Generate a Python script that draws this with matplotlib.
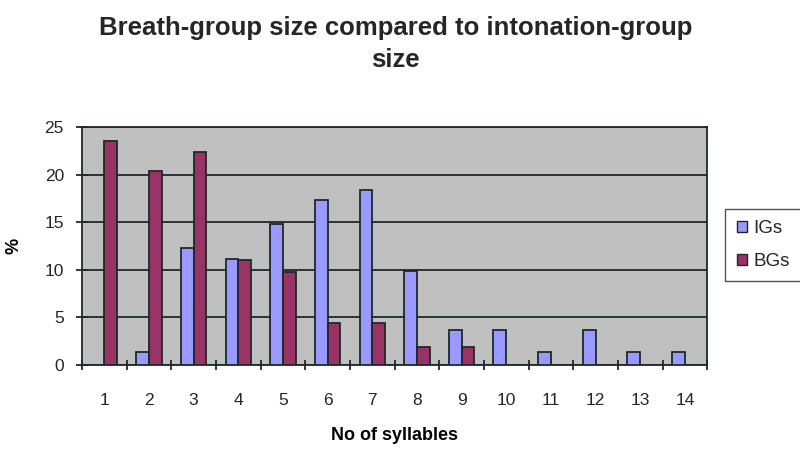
import numpy as np
import matplotlib
matplotlib.use("Agg")
import matplotlib.pyplot as plt

plt.rcParams['font.family'] = ['Liberation Sans', 'DejaVu Sans']
plt.rcParams['text.color'] = '#262626'
plt.rcParams['xtick.labelcolor'] = '#262626'
plt.rcParams['ytick.labelcolor'] = '#262626'

syllables = ["1", "2", "3", "4", "5", "6", "7", "8", "9", "10", "11", "12", "13", "14"]
igs = [0, 1.3, 12.3, 11.1, 14.8, 17.3, 18.4, 9.9, 3.7, 3.7, 1.3, 3.7, 1.3, 1.3]
bgs = [23.5, 20.4, 22.4, 11.0, 9.8, 4.4, 4.4, 1.9, 1.9, 0, 0, 0, 0, 0]

line_col = "#1a2a2a"

fig = plt.figure(figsize=(8, 4.51), dpi=100)
ax = fig.add_axes([0.1025, 0.191, 0.7815, 0.527])
ax.set_facecolor("#C0C0C0")

x = np.arange(len(syllables))
w = 0.2857
ax.bar(x - w / 2, igs, w, color="#9999FF", edgecolor=line_col, linewidth=1.3, label="IGs", zorder=3)
ax.bar(x + w / 2, bgs, w, color="#993366", edgecolor=line_col, linewidth=1.3, label="BGs", zorder=3)

ax.set_xlim(-0.5, len(syllables) - 0.5)
ax.set_ylim(0, 25)
ax.set_yticks([0, 5, 10, 15, 20, 25])
ax.yaxis.grid(True, color=line_col, linewidth=1.3, zorder=1)
ax.set_axisbelow(True)

ax.set_xticks(x)
ax.set_xticklabels(syllables, fontsize=12.5)
ax.set_xticks(np.arange(-0.5, len(syllables)), minor=True)
ax.tick_params(axis="x", which="major", length=0, pad=20)
ax.tick_params(axis="x", which="minor", length=7, direction="inout", width=1.3, color=line_col)
ax.tick_params(axis="y", length=8, direction="inout", width=1.3, labelsize=12.5, color=line_col, pad=9)

for s in ax.spines.values():
    s.set_color(line_col)
    s.set_linewidth(1.3)

ax.set_xlabel("No of syllables", fontsize=13, fontweight="bold", labelpad=14)
ax.set_ylabel("%", fontsize=13, fontweight="bold", labelpad=16)

fig.text(0.494, 0.902, "Breath-group size compared to intonation-group\nsize",
         ha="center", va="center", fontsize=18.5, fontweight="bold", linespacing=1.4)

leg = ax.legend(loc="center left", bbox_to_anchor=(1.029, 0.504), fontsize=13.5,
                frameon=True, fancybox=False, edgecolor="#262626",
                handlelength=0.55, handleheight=0.55, handletextpad=0.35,
                labelspacing=0.85, borderpad=0.6, borderaxespad=0)
leg.get_frame().set_linewidth(1.0)
for h in leg.legend_handles:
    h.set_linewidth(1.0)

fig.savefig("out.png", dpi=100)
